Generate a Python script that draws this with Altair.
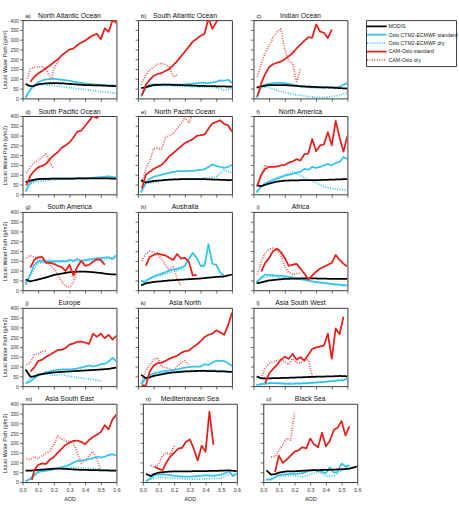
import altair as alt
import pandas as pd

FONT = "Liberation Sans"
SERIES = ["MODIS", "Oslo CTM2-ECMWF standard", "Oslo CTM2-ECMWF dry",
          "CAM-Oslo standard", "CAM-Oslo dry"]
KEYS = ["modis", "oslo", "oslo_dry", "cam", "cam_dry"]
DRAW_ORDER = ["cam_dry", "oslo_dry", "oslo", "modis", "cam"]
COLORS = ["#000000", "#35c4ec", "#35c4ec", "#e8201c", "#ee5a5a"]
WIDTHS = [1.8, 1.8, 0.9, 1.8, 0.9]
DASHES = [[1, 0], [1, 0], [1, 1.5], [1, 0], [1, 1.5]]
AOD_TICKS = [0.0, 0.1, 0.2, 0.3, 0.4, 0.5, 0.6]
LWP_TICKS = [0, 50, 100, 150, 200, 250, 300, 350, 400]

# ---- a) North Atlantic Ocean
NATL = {
    "modis": [(0.02, 75), (0.04, 65), (0.06, 62), (0.08, 66), (0.1, 72), (0.15, 77), (0.2, 78), (0.25, 77),
              (0.3, 74), (0.35, 71), (0.4, 68), (0.45, 67), (0.5, 66), (0.55, 64), (0.6, 62)],
    "oslo": [(0.02, 5), (0.05, 45), (0.075, 65), (0.1, 82), (0.125, 92), (0.15, 97), (0.2, 100), (0.25, 96),
             (0.3, 90), (0.35, 82), (0.4, 76), (0.45, 72), (0.5, 69), (0.55, 66), (0.575, 68), (0.6, 62)],
    "oslo_dry": [(0.02, 5), (0.05, 45), (0.075, 62), (0.1, 70), (0.15, 70), (0.2, 66), (0.25, 60), (0.3, 55),
                 (0.35, 50), (0.4, 45), (0.45, 40), (0.5, 35), (0.55, 30), (0.6, 25)],
    "cam": [(0.05, 85), (0.075, 110), (0.1, 128), (0.125, 140), (0.15, 155), (0.175, 168), (0.2, 185),
            (0.225, 198), (0.25, 220), (0.275, 235), (0.3, 250), (0.325, 255), (0.35, 272), (0.375, 285),
            (0.4, 295), (0.425, 310), (0.45, 322), (0.475, 330), (0.5, 302), (0.525, 358), (0.55, 340),
            (0.575, 400), (0.6, 385)],
    "cam_dry": [(0.03, 100), (0.05, 150), (0.075, 158), (0.1, 160), (0.125, 162), (0.15, 150), (0.175, 110),
                (0.185, 100), (0.2, 150), (0.225, 185), (0.24, 195)],
}
# ---- b) South Atlantic Ocean
SATL = {
    "modis": [(0.02, 52), (0.05, 58), (0.1, 68), (0.15, 70), (0.2, 70), (0.3, 67), (0.4, 64), (0.5, 62),
              (0.6, 60)],
    "oslo": [(0.02, 10), (0.05, 55), (0.075, 70), (0.1, 72), (0.15, 70), (0.2, 70), (0.25, 70), (0.3, 71),
             (0.35, 75), (0.4, 80), (0.45, 78), (0.5, 85), (0.525, 92), (0.55, 90), (0.575, 95), (0.6, 80)],
    "oslo_dry": [(0.02, 10), (0.05, 55), (0.1, 66), (0.15, 66), (0.2, 64), (0.3, 62), (0.4, 58), (0.5, 55),
                 (0.55, 42), (0.6, 50)],
    "cam": [(0.025, 15), (0.05, 70), (0.075, 95), (0.1, 115), (0.125, 125), (0.15, 130), (0.175, 140),
            (0.2, 150), (0.225, 170), (0.25, 190), (0.275, 215), (0.3, 240), (0.325, 265), (0.35, 290),
            (0.375, 305), (0.4, 320), (0.425, 330), (0.45, 410), (0.475, 355), (0.5, 390), (0.525, 420)],
    "cam_dry": [(0.02, 70), (0.05, 120), (0.075, 145), (0.1, 160), (0.125, 175), (0.15, 180), (0.175, 172),
                (0.2, 160), (0.225, 110), (0.25, 120)],
}
# ---- c) Indian Ocean
INDO = {
    "modis": [(0.02, 55), (0.05, 62), (0.1, 68), (0.2, 68), (0.3, 62), (0.4, 58), (0.5, 55), (0.6, 50)],
    "oslo": [(0.02, 5), (0.05, 60), (0.075, 70), (0.1, 75), (0.15, 80), (0.2, 78), (0.25, 70), (0.3, 62),
             (0.35, 58), (0.4, 55), (0.45, 55), (0.5, 58), (0.525, 55), (0.55, 60), (0.6, 80)],
    "oslo_dry": [(0.02, 5), (0.05, 60), (0.1, 55), (0.15, 40), (0.2, 30), (0.25, 22), (0.3, 15), (0.35, 10),
                 (0.4, 5), (0.45, 5), (0.5, 10), (0.55, 15), (0.6, 30)],
    "cam": [(0.025, 10), (0.05, 80), (0.075, 125), (0.1, 160), (0.125, 175), (0.15, 182), (0.175, 188),
            (0.2, 200), (0.225, 215), (0.25, 232), (0.275, 255), (0.3, 275), (0.325, 295), (0.35, 312),
            (0.375, 310), (0.4, 378), (0.425, 342), (0.45, 335), (0.475, 308), (0.5, 352)],
    "cam_dry": [(0.025, 110), (0.05, 180), (0.075, 230), (0.1, 270), (0.125, 310), (0.15, 340), (0.175, 355),
                (0.2, 250), (0.225, 190), (0.25, 180), (0.275, 80), (0.3, 150)],
}
# ---- d) South Pacific Ocean
SPAC = {
    "modis": [(0.02, 62), (0.05, 70), (0.1, 78), (0.2, 80), (0.3, 80), (0.4, 82), (0.5, 82), (0.6, 80)],
    "oslo": [(0.02, 15), (0.05, 60), (0.075, 72), (0.1, 78), (0.15, 80), (0.2, 80), (0.3, 80), (0.35, 82),
             (0.4, 80), (0.45, 85), (0.5, 88), (0.55, 92), (0.6, 85)],
    "oslo_dry": [(0.02, 15), (0.05, 55), (0.1, 65), (0.15, 70), (0.2, 75), (0.3, 80), (0.4, 82), (0.5, 85),
                 (0.6, 80)],
    "cam": [(0.025, 45), (0.05, 95), (0.075, 120), (0.1, 138), (0.125, 145), (0.15, 155), (0.175, 180),
            (0.2, 200), (0.225, 215), (0.25, 238), (0.275, 250), (0.3, 265), (0.325, 290), (0.35, 320),
            (0.375, 325), (0.4, 350), (0.425, 375), (0.45, 400), (0.475, 390), (0.5, 410)],
    "cam_dry": [(0.025, 110), (0.05, 140), (0.075, 160), (0.1, 175), (0.125, 190), (0.15, 205), (0.175, 160),
                (0.2, 130)],
}
# ---- e) North Pacific Ocean
NPAC = {
    "modis": [(0.02, 72), (0.05, 60), (0.1, 68), (0.2, 75), (0.3, 78), (0.4, 78), (0.5, 75), (0.6, 72)],
    "oslo": [(0.02, 10), (0.05, 60), (0.075, 80), (0.1, 90), (0.15, 100), (0.2, 110), (0.25, 118), (0.3, 118),
             (0.35, 120), (0.4, 125), (0.425, 128), (0.45, 140), (0.475, 152), (0.5, 145), (0.55, 135),
             (0.575, 140), (0.6, 150)],
    "oslo_dry": [(0.02, 10), (0.05, 55), (0.1, 60), (0.15, 70), (0.2, 75), (0.3, 80), (0.4, 80), (0.5, 90),
                 (0.55, 125), (0.6, 110)],
    "cam": [(0.025, 30), (0.05, 100), (0.075, 115), (0.1, 130), (0.125, 140), (0.15, 150), (0.175, 170),
            (0.2, 195), (0.225, 210), (0.25, 228), (0.275, 245), (0.3, 262), (0.325, 272), (0.35, 282),
            (0.375, 298), (0.4, 302), (0.425, 305), (0.45, 335), (0.475, 362), (0.5, 370), (0.525, 378),
            (0.55, 360), (0.575, 352), (0.6, 320)],
    "cam_dry": [(0.025, 60), (0.05, 130), (0.075, 170), (0.1, 235), (0.125, 235), (0.15, 230), (0.175, 290),
                (0.2, 300), (0.225, 310), (0.25, 335), (0.275, 360), (0.3, 395), (0.325, 365), (0.35, 410)],
}
# ---- f) North America
NAME = {
    "modis": [(0.02, 45), (0.05, 42), (0.1, 55), (0.15, 65), (0.2, 70), (0.3, 72), (0.4, 72), (0.5, 75),
              (0.6, 78)],
    "oslo": [(0.02, 10), (0.05, 40), (0.075, 55), (0.1, 65), (0.15, 80), (0.2, 95), (0.25, 105), (0.3, 115),
             (0.325, 130), (0.35, 125), (0.375, 140), (0.4, 135), (0.425, 140), (0.45, 148), (0.475, 155),
             (0.5, 148), (0.525, 160), (0.55, 165), (0.575, 190), (0.6, 180)],
    "oslo_dry": [(0.02, 10), (0.05, 40), (0.1, 65), (0.15, 85), (0.2, 100), (0.25, 115), (0.3, 95),
                 (0.35, 75), (0.4, 60), (0.45, 38), (0.5, 30), (0.55, 25), (0.6, 20)],
    "cam": [(0.025, 45), (0.05, 100), (0.075, 130), (0.1, 140), (0.125, 140), (0.15, 142), (0.175, 148),
            (0.2, 150), (0.225, 162), (0.25, 168), (0.275, 180), (0.3, 172), (0.325, 205), (0.35, 208),
            (0.375, 282), (0.4, 220), (0.425, 250), (0.45, 255), (0.475, 318), (0.5, 250), (0.525, 375),
            (0.55, 290), (0.575, 218), (0.6, 300)],
    "cam_dry": [(0.025, 50), (0.05, 100), (0.075, 150), (0.1, 130)],
}
# ---- g) South America
SAME = {
    "modis": [(0.02, 55), (0.05, 45), (0.1, 55), (0.15, 65), (0.2, 78), (0.25, 85), (0.3, 92), (0.35, 95),
              (0.4, 95), (0.45, 92), (0.5, 88), (0.55, 82), (0.6, 80)],
    "oslo": [(0.02, 30), (0.05, 80), (0.075, 130), (0.1, 148), (0.15, 148), (0.2, 148), (0.25, 150),
             (0.275, 148), (0.3, 155), (0.325, 150), (0.35, 160), (0.375, 148), (0.4, 155), (0.45, 160),
             (0.5, 165), (0.55, 168), (0.575, 160), (0.6, 180)],
    "oslo_dry": [(0.02, 30), (0.05, 75), (0.1, 140), (0.2, 142), (0.3, 145), (0.4, 150), (0.5, 155),
                 (0.6, 165)],
    "cam": [(0.05, 115), (0.075, 155), (0.1, 168), (0.125, 170), (0.15, 140), (0.175, 140), (0.2, 135),
            (0.225, 125), (0.25, 118), (0.275, 98), (0.3, 130), (0.325, 75), (0.35, 120), (0.375, 150),
            (0.4, 125), (0.425, 130), (0.45, 145), (0.475, 158), (0.5, 155), (0.525, 130)],
    "cam_dry": [(0.025, 165), (0.05, 178), (0.075, 170), (0.1, 160), (0.125, 150), (0.15, 145), (0.175, 130),
                (0.2, 110), (0.225, 80), (0.25, 45), (0.275, 20), (0.3, 15), (0.325, 40), (0.35, 100)],
}
# ---- h) Australia
AUST = {
    "modis": [(0.02, 25), (0.05, 35), (0.1, 42), (0.2, 50), (0.3, 55), (0.4, 60), (0.5, 68), (0.55, 70),
              (0.6, 80)],
    "oslo": [(0.02, 50), (0.04, 40), (0.075, 60), (0.1, 70), (0.15, 85), (0.2, 100), (0.25, 110),
             (0.275, 115), (0.3, 125), (0.325, 160), (0.35, 192), (0.375, 165), (0.4, 125), (0.425, 125),
             (0.45, 235), (0.475, 135), (0.5, 130), (0.525, 90), (0.55, 75)],
    "oslo_dry": [(0.02, 45), (0.1, 65), (0.2, 90), (0.3, 110)],
    "cam": [(0.05, 125), (0.075, 170), (0.1, 180), (0.125, 188), (0.15, 182), (0.175, 178), (0.2, 165),
            (0.225, 155), (0.25, 185), (0.275, 162), (0.3, 165), (0.325, 145), (0.35, 75), (0.375, 78)],
    "cam_dry": [(0.025, 150), (0.05, 185), (0.075, 200), (0.1, 195), (0.125, 185), (0.15, 160), (0.175, 130),
                (0.2, 100), (0.225, 120), (0.25, 60), (0.275, 20)],
}
# ---- i) Africa
AFRI = {
    "modis": [(0.02, 35), (0.05, 40), (0.1, 50), (0.2, 58), (0.3, 60), (0.4, 60), (0.5, 58), (0.6, 58)],
    "oslo": [(0.02, 40), (0.05, 65), (0.075, 80), (0.1, 78), (0.15, 75), (0.2, 72), (0.25, 65), (0.3, 58),
             (0.35, 50), (0.4, 42), (0.45, 38), (0.5, 32), (0.55, 28), (0.6, 25)],
    "oslo_dry": [(0.02, 40), (0.05, 60), (0.1, 72), (0.2, 65), (0.3, 55), (0.4, 40), (0.5, 30), (0.6, 20)],
    "cam": [(0.05, 95), (0.075, 140), (0.1, 165), (0.125, 200), (0.15, 212), (0.175, 195), (0.2, 165),
            (0.225, 125), (0.25, 130), (0.275, 135), (0.3, 110), (0.325, 85), (0.35, 55), (0.375, 75),
            (0.4, 95), (0.425, 110), (0.45, 120), (0.475, 130), (0.5, 140), (0.525, 180), (0.55, 155),
            (0.575, 135), (0.6, 122)],
    "cam_dry": [(0.025, 80), (0.05, 150), (0.075, 190), (0.1, 210), (0.125, 215), (0.15, 205), (0.175, 180),
                (0.2, 120), (0.225, 90), (0.25, 80), (0.275, 85), (0.3, 90)],
}
# ---- j) Europe
EURO = {
    "modis": [(0.02, 85), (0.05, 48), (0.075, 50), (0.1, 58), (0.15, 65), (0.2, 70), (0.3, 75), (0.4, 80),
              (0.5, 85), (0.55, 88), (0.6, 95)],
    "oslo": [(0.02, 15), (0.05, 25), (0.075, 40), (0.1, 55), (0.15, 70), (0.2, 80), (0.25, 85), (0.3, 85),
             (0.35, 90), (0.375, 95), (0.4, 100), (0.425, 105), (0.45, 100), (0.475, 105), (0.5, 112),
             (0.525, 115), (0.55, 125), (0.575, 145), (0.6, 125)],
    "oslo_dry": [(0.02, 15), (0.05, 40), (0.1, 60), (0.15, 62), (0.2, 55), (0.25, 60), (0.3, 50),
                 (0.35, 45), (0.4, 38), (0.45, 35), (0.5, 25)],
    "cam": [(0.05, 75), (0.075, 95), (0.1, 128), (0.125, 135), (0.15, 150), (0.175, 160), (0.2, 172),
            (0.225, 185), (0.25, 185), (0.275, 195), (0.3, 212), (0.325, 218), (0.35, 226), (0.375, 228),
            (0.4, 222), (0.425, 216), (0.45, 268), (0.475, 252), (0.5, 268), (0.525, 245), (0.55, 262),
            (0.575, 238), (0.6, 258)],
    "cam_dry": [(0.025, 110), (0.05, 120), (0.075, 160), (0.1, 165), (0.125, 178), (0.15, 180)],
}
# ---- k) Asia North
ASNO = {
    "modis": [(0.02, 58), (0.05, 40), (0.075, 45), (0.1, 52), (0.15, 60), (0.2, 68), (0.3, 75), (0.4, 78),
              (0.5, 76), (0.55, 75), (0.6, 72)],
    "oslo": [(0.02, 10), (0.05, 40), (0.075, 55), (0.1, 65), (0.15, 75), (0.2, 80), (0.25, 85), (0.3, 95),
             (0.35, 100), (0.4, 100), (0.425, 112), (0.45, 108), (0.475, 120), (0.5, 130), (0.55, 128),
             (0.575, 118), (0.6, 102)],
    "oslo_dry": [(0.02, 10), (0.05, 45), (0.1, 60), (0.2, 70), (0.3, 78), (0.4, 80), (0.5, 82), (0.6, 75)],
    "cam": [(0.025, 5), (0.05, 2), (0.075, 75), (0.1, 105), (0.125, 118), (0.15, 120), (0.175, 128),
            (0.2, 140), (0.225, 148), (0.25, 155), (0.275, 170), (0.3, 178), (0.325, 182), (0.35, 198),
            (0.375, 212), (0.4, 230), (0.425, 250), (0.45, 262), (0.475, 268), (0.5, 285), (0.525, 275),
            (0.55, 262), (0.575, 310), (0.6, 375)],
    "cam_dry": [(0.025, 25), (0.05, 75), (0.075, 110), (0.1, 135), (0.125, 145), (0.15, 100), (0.2, 90),
                (0.225, 80), (0.25, 100), (0.275, 120), (0.3, 130), (0.325, 110)],
}
# ---- l) Asia South West
ASSW = {
    "modis": [(0.02, 50), (0.05, 40), (0.1, 40), (0.2, 42), (0.3, 45), (0.4, 48), (0.5, 50), (0.55, 52),
              (0.6, 50)],
    "oslo": [(0.02, 5), (0.05, 10), (0.1, 15), (0.15, 15), (0.2, 12), (0.25, 12), (0.3, 13), (0.35, 15),
             (0.4, 18), (0.45, 22), (0.5, 25), (0.55, 30), (0.575, 30), (0.6, 40)],
    "oslo_dry": [(0.02, 5), (0.05, 12), (0.1, 15), (0.2, 15), (0.3, 15), (0.4, 20), (0.5, 25), (0.6, 35)],
    "cam": [(0.075, 15), (0.1, 65), (0.125, 88), (0.15, 108), (0.175, 135), (0.2, 150), (0.225, 140),
            (0.25, 165), (0.275, 135), (0.3, 148), (0.325, 130), (0.35, 160), (0.375, 190), (0.4, 198),
            (0.425, 202), (0.45, 208), (0.475, 268), (0.5, 140), (0.525, 295), (0.55, 265), (0.575, 355)],
    "cam_dry": [(0.05, 40), (0.075, 95), (0.1, 115), (0.125, 125), (0.15, 130), (0.175, 135), (0.2, 125),
                (0.225, 110), (0.25, 140), (0.275, 120), (0.3, 118), (0.325, 138), (0.35, 135),
                (0.375, 50)],
}
# ---- m) Asia South East
ASSE = {
    "modis": [(0.02, 58), (0.05, 58), (0.1, 62), (0.15, 65), (0.2, 68), (0.25, 68), (0.3, 66), (0.35, 63),
              (0.4, 62), (0.5, 60), (0.6, 58)],
    "oslo": [(0.02, 5), (0.05, 15), (0.075, 35), (0.1, 50), (0.125, 55), (0.15, 58), (0.2, 65), (0.25, 75),
             (0.3, 88), (0.325, 100), (0.35, 108), (0.4, 112), (0.425, 118), (0.45, 122), (0.475, 130),
             (0.5, 125), (0.525, 130), (0.55, 138), (0.575, 142), (0.6, 135)],
    "oslo_dry": [(0.02, 5), (0.05, 20), (0.1, 55), (0.15, 60), (0.2, 68), (0.25, 70), (0.3, 75), (0.35, 75),
                 (0.4, 70), (0.45, 68), (0.5, 65), (0.55, 60), (0.6, 60)],
    "cam": [(0.06, 10), (0.075, 60), (0.1, 88), (0.125, 95), (0.15, 92), (0.175, 115), (0.2, 128),
            (0.225, 150), (0.25, 170), (0.275, 190), (0.3, 202), (0.325, 210), (0.35, 212), (0.375, 205),
            (0.4, 193), (0.425, 215), (0.45, 230), (0.475, 242), (0.5, 255), (0.525, 290), (0.55, 270),
            (0.575, 320), (0.6, 345)],
    "cam_dry": [(0.025, 120), (0.05, 115), (0.075, 130), (0.1, 120), (0.125, 135), (0.15, 145), (0.175, 160),
                (0.2, 190), (0.225, 235), (0.25, 220), (0.275, 210), (0.3, 205), (0.325, 200), (0.35, 150),
                (0.375, 95), (0.4, 110), (0.425, 135), (0.45, 155), (0.475, 120), (0.5, 60)],
}
# ---- n) Mediterranean Sea
MEDI = {
    "modis": [(0.02, 42), (0.05, 30), (0.075, 42), (0.1, 48), (0.15, 52), (0.2, 55), (0.3, 55), (0.4, 56),
              (0.5, 58), (0.55, 60), (0.6, 55)],
    "oslo": [(0.02, 5), (0.05, 20), (0.075, 35), (0.1, 40), (0.15, 38), (0.2, 32), (0.25, 28), (0.3, 28),
             (0.35, 30), (0.4, 35), (0.45, 32), (0.5, 38), (0.525, 45), (0.55, 55), (0.575, 30), (0.6, 45)],
    "oslo_dry": [(0.02, 5), (0.05, 15), (0.1, 25), (0.2, 20), (0.3, 15), (0.4, 15), (0.5, 20), (0.55, 40),
                 (0.6, 40)],
    "cam": [(0.075, 80), (0.1, 68), (0.125, 60), (0.15, 100), (0.175, 130), (0.2, 150), (0.225, 170),
            (0.25, 175), (0.275, 205), (0.3, 218), (0.325, 170), (0.35, 110), (0.375, 185), (0.4, 155),
            (0.425, 360), (0.45, 190)],
    "cam_dry": [(0.05, 85), (0.075, 75), (0.1, 90), (0.125, 135), (0.15, 150), (0.175, 140), (0.2, 185)],
}
# ---- o) Black Sea
BLCK = {
    "modis": [(0.02, 60), (0.05, 38), (0.075, 40), (0.1, 48), (0.15, 55), (0.2, 55), (0.3, 60), (0.4, 62),
              (0.5, 65), (0.55, 68), (0.6, 80)],
    "oslo": [(0.02, 12), (0.05, 12), (0.075, 25), (0.1, 35), (0.15, 40), (0.2, 42), (0.25, 45), (0.3, 60),
             (0.325, 62), (0.35, 55), (0.375, 52), (0.4, 45), (0.425, 75), (0.45, 48), (0.475, 52),
             (0.5, 95), (0.525, 80), (0.55, 85)],
    "oslo_dry": [(0.02, 10), (0.1, 30), (0.2, 35), (0.25, 25), (0.3, 40), (0.35, 55), (0.4, 30), (0.45, 30),
                 (0.5, 60), (0.55, 80)],
    "cam": [(0.075, 50), (0.1, 135), (0.125, 98), (0.15, 115), (0.175, 135), (0.2, 155), (0.225, 162),
            (0.25, 178), (0.275, 172), (0.3, 222), (0.325, 192), (0.35, 178), (0.375, 252), (0.4, 182),
            (0.425, 210), (0.45, 265), (0.475, 278), (0.5, 312), (0.525, 238), (0.55, 285)],
    "cam_dry": [(0.05, 128), (0.075, 130), (0.1, 160), (0.125, 190), (0.15, 225), (0.175, 215), (0.2, 360)],
}

PANELS = [
    [("a)", "North Atlantic Ocean", NATL), ("b)", "South Atlantic Ocean", SATL), ("c)", "Indian Ocean", INDO)],
    [("d)", "South Pacific Ocean", SPAC), ("e)", "North Pacific Ocean", NPAC), ("f)", "North America", NAME)],
    [("g)", "South America", SAME), ("h)", "Australia", AUST), ("i)", "Africa", AFRI)],
    [("j)", "Europe", EURO), ("k)", "Asia North", ASNO), ("l)", "Asia South West", ASSW)],
    [("m)", "Asia South East", ASSE), ("n)", "Mediterranean Sea", MEDI), ("o)", "Black Sea", BLCK)],
]

PW, PH = 96, 80


def to_frame(d):
    rows = []
    for key in DRAW_ORDER:
        name = SERIES[KEYS.index(key)]
        for x, y in d[key]:
            rows.append({"series": name, "aod": x, "lwp": y})
    return pd.DataFrame(rows)


def header(letter, name, width):
    df = pd.DataFrame({"t": [letter], "n": [name]})
    base = alt.Chart(df)
    tag = base.mark_text(align="left", baseline="alphabetic", fontSize=6, font=FONT, color="#111").encode(
        x=alt.value(3), y=alt.value(-2.5), text="t:N")
    ttl = base.mark_text(align="center", baseline="alphabetic", fontSize=7, font=FONT, color="#111").encode(
        x=alt.value(width / 2), y=alt.value(-2.5), text="n:N")
    return [tag, ttl]


def panel(letter, name, d, first_col, last_row, row_idx):
    if last_row:
        xaxis = alt.Axis(values=AOD_TICKS, format=".1f", title="AOD", labelFlush=False,
                         labelPadding=2.5, titlePadding=4.5, labelFontSize=5.3)
    else:
        xaxis = alt.Axis(values=AOD_TICKS, labels=False, title=None)
    if first_col:
        ytitle = "Liquid Water Path (g/m²)" if row_idx == 0 else "Liquid Water Path (g/m2)"
        yaxis = alt.Axis(values=LWP_TICKS, title=ytitle, labelFlush=False)
    else:
        yaxis = alt.Axis(values=LWP_TICKS, labels=False, title=None)
    lines = alt.Chart(to_frame(d)).mark_line(clip=True, strokeJoin="round").encode(
        x=alt.X("aod:Q", scale=alt.Scale(domain=[0, 0.6], nice=False, zero=False), axis=xaxis),
        y=alt.Y("lwp:Q", scale=alt.Scale(domain=[0, 400], nice=False), axis=yaxis),
        color=alt.Color("series:N", scale=alt.Scale(domain=SERIES, range=COLORS), legend=None),
        strokeDash=alt.StrokeDash("series:N", scale=alt.Scale(domain=SERIES, range=DASHES), legend=None),
        strokeWidth=alt.StrokeWidth("series:N", scale=alt.Scale(domain=SERIES, range=WIDTHS), legend=None),
    )
    return alt.layer(lines, *header(letter, name, PW)).properties(width=PW, height=PH)


def legend_chart():
    df = pd.DataFrame({"series": SERIES})
    yenc = alt.Y("series:N", scale=alt.Scale(type="point", domain=SERIES, padding=0.73), axis=None)
    rules = alt.Chart(df).mark_rule().encode(
        x=alt.value(1), x2=alt.value(21), y=yenc,
        color=alt.Color("series:N", scale=alt.Scale(domain=SERIES, range=COLORS), legend=None),
        strokeDash=alt.StrokeDash("series:N", scale=alt.Scale(domain=SERIES, range=DASHES), legend=None),
        strokeWidth=alt.StrokeWidth("series:N", scale=alt.Scale(domain=SERIES, range=WIDTHS), legend=None),
    )
    texts = alt.Chart(df).mark_text(align="left", baseline="middle", fontSize=5.3, font=FONT,
                                    color="#222").encode(x=alt.value(23), y=yenc, text="series:N")
    return alt.layer(rules, texts, *header(" ", " ", 92)).properties(width=92, height=47)


rows = []
for r, row in enumerate(PANELS):
    charts = [panel(l, n, d, c == 0, r == len(PANELS) - 1, r) for c, (l, n, d) in enumerate(row)]
    if r == 0:
        charts.append(legend_chart())
    rows.append(alt.hconcat(*charts, spacing=17))

chart = alt.vconcat(*rows, spacing=5).properties(
    padding={"left": 2, "top": 6, "right": 0, "bottom": 0}
).configure_view(stroke="#3a3a3a", strokeWidth=1).configure_axis(
    domain=False, grid=False, tickSize=3, tickColor="#444", tickWidth=0.8,
    labelFontSize=5, labelFont=FONT, labelColor="#333", labelPadding=1.5,
    titleFontSize=5.5, titleFont=FONT, titleFontWeight="normal", titleColor="#222", titlePadding=2,
)

chart.save("out.html", embed_options={"renderer": "svg", "actions": False})
